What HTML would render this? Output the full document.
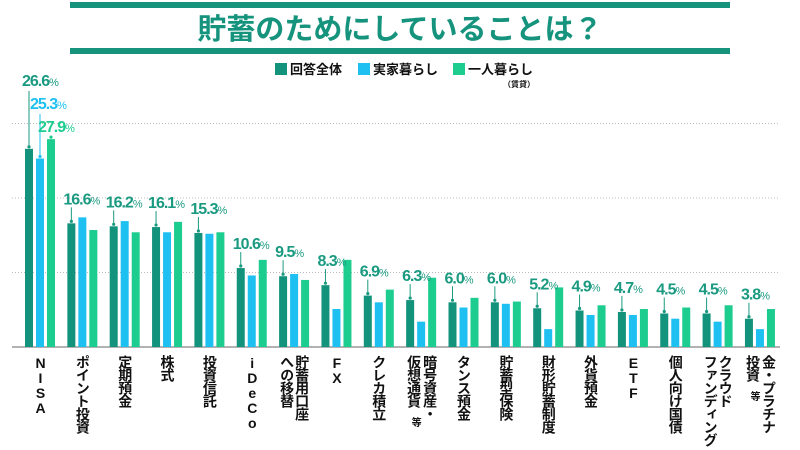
<!DOCTYPE html>
<html><head><meta charset="utf-8">
<style>
body{margin:0;background:#fff;}
#wrap{position:relative;width:800px;height:450px;overflow:hidden;background:#fff;font-family:"Liberation Sans","Noto Sans CJK JP",sans-serif;}
.cat{position:absolute;top:355px;writing-mode:vertical-rl;text-orientation:upright;font-size:14px;font-weight:bold;color:#111;line-height:15px;letter-spacing:-1px;white-space:nowrap;}
.cat small{font-size:10px;}
</style></head>
<body>
<div id="wrap">
<svg id="svg" width="800" height="450" style="position:absolute;left:0;top:0">
  <rect x="70" y="2" width="660" height="6" fill="#15937d"/>
  <rect x="70" y="48" width="660" height="6" fill="#15937d"/>
  <text x="400" y="39" text-anchor="middle" font-size="29" font-weight="bold" fill="#15937d" font-family="Noto Sans CJK JP,sans-serif">貯蓄のためにしていることは？</text>
  <g font-size="13" font-weight="bold" fill="#111" font-family="Noto Sans CJK JP,sans-serif">
    <rect x="275" y="63" width="12" height="12" fill="#14937c"/>
    <text x="290" y="74">回答全体</text>
    <rect x="358" y="63" width="12" height="12" fill="#1ec0f2"/>
    <text x="373" y="74">実家暮らし</text>
    <rect x="453" y="63" width="12" height="12" fill="#1dcc8f"/>
    <text x="468" y="74">一人暮らし</text>
    <text x="503" y="87" font-size="8">（賃貸）</text>
  </g>
  <g id="grid"></g>
  <g id="bars"></g>
  <g id="labels"></g>
</svg>
</div>
<script>
const categories = ["NISA","ポイント投資","定期預金","株式","投資信託","iDeCo","貯蓄用口座|への移替","FX","クレカ積立","暗号資産・|仮想通貨 等","タンス預金","貯蓄型保険","財形貯蓄制度","外貨預金","ETF","個人向け国債","クラウド|ファンディング","金・プラチナ|投資 等"];
const totalValues = [26.6,16.6,16.2,16.1,15.3,10.6,9.5,8.3,6.9,6.3,6.0,6.0,5.2,4.9,4.7,4.5,4.5,3.8];
const parentsValues = [25.3,17.4,16.9,15.4,15.2,9.6,9.8,5.1,6.0,3.4,5.3,5.8,2.4,4.3,4.3,3.8,3.4,2.4];
const aloneValues = [27.9,15.7,15.4,16.8,15.4,11.7,9.0,11.7,7.7,9.3,6.6,6.1,8.0,5.6,5.1,5.3,5.6,5.1];
const gridTicks = [10,20,30];

const NS="http://www.w3.org/2000/svg";
const baseY=347, pxPer=7.45;
const y = v => baseY - v*pxPer;
const gx = i => 25 + i*42.35;
const colors=["#14937c","#1ec0f2","#1dcc8f"];
const grid=document.getElementById('grid'), bars=document.getElementById('bars'), labels=document.getElementById('labels');

gridTicks.forEach(t=>{
  const l=document.createElementNS(NS,'line');
  l.setAttribute('x1',12);l.setAttribute('x2',780);l.setAttribute('y1',y(t));l.setAttribute('y2',y(t));
  l.setAttribute('stroke','#bbb');l.setAttribute('stroke-dasharray','1 2');
  
  
  grid.appendChild(l);
});
const ax=document.createElementNS(NS,'line');
ax.setAttribute('x1',12);ax.setAttribute('x2',780);ax.setAttribute('y1',baseY);ax.setAttribute('y2',baseY);
ax.setAttribute('stroke','#666');ax.setAttribute('stroke-width','1');


grid.appendChild(ax);

function label(x,cy,v,color,lineX,lineTop,lineBot){
  const t=document.createElementNS(NS,'text');
  t.setAttribute('x',x);t.setAttribute('y',cy+6);
  t.setAttribute('font-size','16');t.setAttribute('font-weight','bold');t.setAttribute('fill',color);
  t.setAttribute('letter-spacing','-1');
  t.innerHTML=v.toFixed(1)+'<tspan font-size="11" font-weight="normal">%</tspan>';
  
  
  labels.appendChild(t);
  const l=document.createElementNS(NS,'line');
  l.setAttribute('x1',lineX);l.setAttribute('x2',lineX);l.setAttribute('y1',lineTop);l.setAttribute('y2',lineBot-2);
  l.setAttribute('stroke',color);l.setAttribute('stroke-width','1');
  
  
  labels.appendChild(l);
  const c=document.createElementNS(NS,'circle');
  c.setAttribute('cx',lineX);c.setAttribute('cy',lineBot-2);c.setAttribute('r','1.6');c.setAttribute('fill',color);
  
  
  labels.appendChild(c);
}

const series=[totalValues,parentsValues,aloneValues];
categories.forEach((c,i)=>{
  const x0=gx(i);
  series.forEach((s,k)=>{
    const r=document.createElementNS(NS,'rect');
    r.setAttribute('x',x0+k*11);r.setAttribute('y',y(s[i]));r.setAttribute('width',8);r.setAttribute('height',baseY-y(s[i]));
    r.setAttribute('fill',colors[k]);
    
    
    bars.appendChild(r);
  });
  if(i===0){
    const labCols=["#1a9a80","#1ec0f2","#1dcc8f"];
    series.forEach((s,k)=>{
      const cy=80+k*23;
      label(x0-3+k*8,cy,s[i],labCols[k],x0+4+k*11,cy+11,y(s[i]));
    });
  } else {
    const top=y(totalValues[i]);
    label(x0-4,top-25,totalValues[i],"#1a9a80",x0+4,top-16,top);
  }
  const d=document.createElement('div');
  d.className='cat';
  d.innerHTML=c.replace(' 等','<small> 等</small>').replace('|','<br>');
  const cols=c.includes('|')?2:1;
  d.style.left=(x0+15-cols*7.5)+'px';
  
  
  document.getElementById('wrap').appendChild(d);
});
</script>
</body></html>
